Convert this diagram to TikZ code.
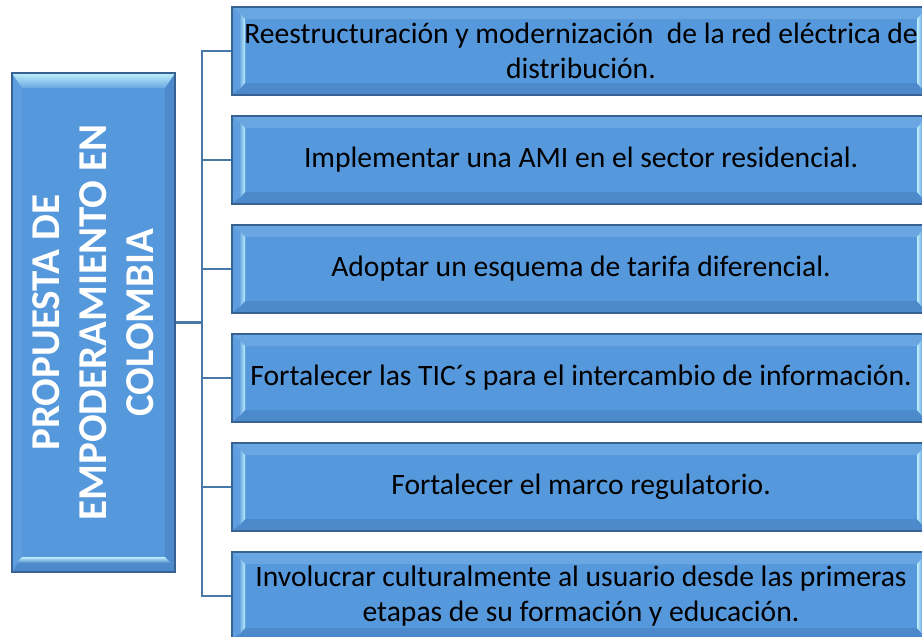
\documentclass[tikz,border=0pt]{standalone}
\usepackage{fontspec}
\setmainfont{Carlito}
\usetikzlibrary{calc}
\definecolor{boxmain}{RGB}{86,152,220}
\definecolor{boxtop}{RGB}{106,166,226}
\definecolor{boxbot}{RGB}{76,138,204}
\definecolor{boxside}{RGB}{94,157,222}
\definecolor{boxedge}{RGB}{55,98,145}
\definecolor{hilite}{RGB}{190,240,252}
\definecolor{linkc}{RGB}{72,120,168}
\tikzset{
  itembox/.style={draw=boxedge, line width=1.1pt, fill=boxmain,
    minimum width=698pt, minimum height=88pt, inner sep=0pt,
    align=center, text=black, font=\fontsize{29.6}{35}\selectfont,
    path picture={
      \coordinate (pa) at (path picture bounding box.north west);
      \coordinate (pb) at (path picture bounding box.south east);
      \fill[boxtop] (pa) -- (pb|-pa) -- ($(pb|-pa)+(-13,12)$) -- ($(pa)+(13,12)$) -- cycle;
      \fill[boxbot] (pa|-pb) -- (pb) -- ($(pb)+(-13,-12)$) -- ($(pa|-pb)+(13,-12)$) -- cycle;
      \fill[boxside] (pa) -- ($(pa)+(13,12)$) -- ($(pa|-pb)+(13,-12)$) -- (pa|-pb) -- cycle;
      \fill[boxside] (pb|-pa) -- ($(pb|-pa)+(-13,12)$) -- ($(pb)+(-13,-12)$) -- (pb) -- cycle;
      \shade[left color=boxside, right color=hilite]
        ($(pa)+(7,5)$) -- ($(pa)+(13,12)$) -- ($(pa|-pb)+(13,-12)$) -- ($(pa|-pb)+(7,-5)$) -- cycle;
      \shade[right color=boxside, left color=hilite]
        ($(pb|-pa)+(-7,5)$) -- ($(pb|-pa)+(-13,12)$) -- ($(pb)+(-13,-12)$) -- ($(pb)+(-7,-5)$) -- cycle;
    }},
  rootbox/.style={draw=boxedge, line width=1.1pt, fill=boxmain,
    minimum width=163pt, minimum height=499pt, inner sep=0pt,
    path picture={
      \coordinate (pa) at (path picture bounding box.north west);
      \coordinate (pb) at (path picture bounding box.south east);
      \fill[boxside] (pa) -- ($(pa)+(10,15)$) -- ($(pa|-pb)+(10,-15)$) -- (pa|-pb) -- cycle;
      \fill[boxbot] (pb|-pa) -- ($(pb|-pa)+(-10,15)$) -- ($(pb)+(-10,-15)$) -- (pb) -- cycle;
      \shade[top color=hilite, bottom color=boxtop]
        (pa) -- (pb|-pa) -- ($(pb|-pa)+(-10,15)$) -- ($(pa)+(10,15)$) -- cycle;
      \fill[boxbot] (pa|-pb) -- (pb) -- ($(pb)+(-10,-15)$) -- ($(pa|-pb)+(10,-15)$) -- cycle;
      \shade[top color=hilite, bottom color=boxbot]
        ($(pa|-pb)+(10,-15)$) -- ($(pb)+(-10,-15)$) -- ($(pb)+(-4,-9)$) -- ($(pa|-pb)+(4,-9)$) -- cycle;
    }},
  roottext/.style={rotate=90, align=center, text=white,
    font=\fontsize{41}{47}\selectfont\bfseries},
  link/.style={draw=linkc, line width=2.6pt}
}
\begin{document}
\begin{tikzpicture}[x=1pt,y=-1pt]
\clip (0,0) rectangle (922,637);
\fill[white] (0,0) rectangle (922,637);

\node[rootbox] (root) at (93.5,322.5) {};
\node[roottext] (roottxt) at (root.center) {PROPUESTA DE\\EMPODERAMIENTO EN\\COLOMBIA};

\node[itembox] (i1) at (581,51) {Reestructuración y modernización\ \ de la red eléctrica de\\distribución.};
\node[itembox] (i2) at (581,160) {Implementar una AMI en el sector residencial.};
\node[itembox] (i3) at (581,269) {Adoptar un esquema de tarifa diferencial.};
\node[itembox] (i4) at (581,378) {Fortalecer las TIC´s para el intercambio de información.};
\node[itembox] (i5) at (581,487) {Fortalecer el marco regulatorio.};
\node[itembox] (i6) at (581,596) {Involucrar culturalmente al usuario desde las primeras\\etapas de su formación y educación.};

\coordinate (bus) at (202,0);
\draw[link] (root.east) -- (root.east -| bus);
\draw[link] (i1.west) -- (i1.west -| bus) -- (i6.west -| bus) -- (i6.west);
\foreach \n in {i2,i3,i4,i5} \draw[link] (\n.west) -- (\n.west -| bus);
\end{tikzpicture}
\end{document}
